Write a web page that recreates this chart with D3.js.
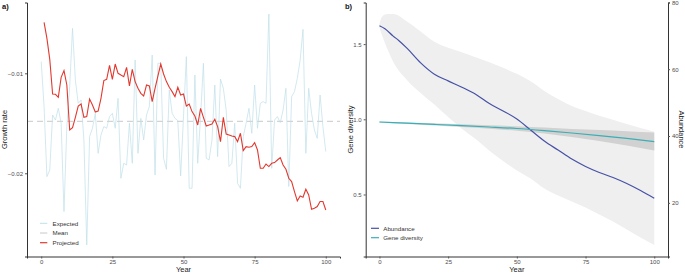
<!DOCTYPE html>
<html>
<head>
<meta charset="utf-8">
<script src="https://cdn.jsdelivr.net/npm/d3@7"></script>
<style>
  body { margin: 0; background: #fff; }
  svg { font-family: "Liberation Sans", Arial, sans-serif; }
</style>
</head>
<body>
<div id="main"></div>
<script>
// ---- panel a data: growth rate per year ----
const yearsExp = d3.range(0, 101);
const expected = [
  -0.00883, -0.01333, -0.02033, -0.01967, -0.01417, -0.01467, -0.0135, -0.015, -0.02383, -0.01533,
  -0.01133, -0.0055, -0.01067, -0.013, -0.01267, -0.01667, -0.02717, -0.01633, -0.0155, -0.014,
  -0.018, -0.01617, -0.01533, -0.0155, -0.01433, -0.014, -0.0155, -0.0125, -0.0205, -0.019,
  -0.01917, -0.015, -0.019, -0.00867, -0.018, -0.0145, -0.01667, -0.01417, -0.01333, -0.00817,
  -0.02017, -0.009, -0.009, -0.0185, -0.0196, -0.01167, -0.014, -0.0145, -0.01473, -0.02027,
  -0.01433, -0.00833, -0.0215, -0.0215, -0.01017, -0.019, -0.01433, -0.009, -0.0185, -0.01867,
  -0.01667, -0.01117, -0.01833, -0.01057, -0.0115, -0.01367, -0.01933, -0.019, -0.015, -0.021,
  -0.0215, -0.01633, -0.015, -0.0135, -0.016, -0.01117, -0.0155, -0.013, -0.01283, -0.013,
  -0.00407, -0.0195, -0.01467, -0.01433, -0.01493, -0.01367, -0.0115, -0.02133, -0.01233, -0.01183,
  -0.0105, -0.00867, -0.0056, -0.018, -0.0115, -0.014, -0.01567, -0.0165, -0.01217, -0.01533,
  -0.01783
];
const yearsProj = d3.range(1, 101);
const projected = [
  -0.0049, -0.0065, -0.0086, -0.01207, -0.0121, -0.0124, -0.0104, -0.00973, -0.01117, -0.01567,
  -0.01543, -0.0144, -0.01327, -0.01307, -0.0144, -0.01433, -0.01257, -0.01317, -0.01387, -0.01377,
  -0.0125, -0.01073, -0.0106, -0.0092, -0.0106, -0.00907, -0.01, -0.01017, -0.01033, -0.0094,
  -0.01127, -0.0096, -0.01083, -0.0115, -0.012, -0.01227, -0.01117, -0.01127, -0.01283, -0.0115,
  -0.01027, -0.00907, -0.01007, -0.01083, -0.0114, -0.01183, -0.01233, -0.0114, -0.01217, -0.01207,
  -0.01327, -0.01307, -0.01383, -0.01427, -0.01517, -0.0135, -0.0144, -0.01527, -0.01517, -0.01507,
  -0.0146, -0.01533, -0.01683, -0.0144, -0.01607, -0.01617, -0.01627, -0.01633, -0.01683, -0.016,
  -0.01773, -0.01733, -0.0174, -0.01733, -0.01693, -0.01767, -0.0195, -0.0195, -0.01907, -0.01933,
  -0.019, -0.01893, -0.01867, -0.01843, -0.01917, -0.0196, -0.0205, -0.02083, -0.02183, -0.02277,
  -0.02227, -0.0224, -0.0216, -0.02217, -0.0236, -0.0235, -0.02333, -0.02283, -0.02283, -0.02367
];
const meanRate = -0.0148;
const ticksA_x = [0, 25, 50, 75, 100];
const ticksA_y = [-0.02, -0.01];
const legendA = ["Expected", "Mean", "Projected"];

// ---- panel b data ----
const yearsAb = [0, 2, 5, 7, 10, 15, 20, 25, 30, 35, 40, 45, 50, 55, 60, 65, 70, 75, 80, 85, 90, 95, 100];
const abundance = [73.0, 72.1, 69.9, 68.6, 66.3, 61.9, 58.5, 56.5, 54.6, 52.5, 49.7, 47.5, 45.1,
                   41.8, 38.5, 35.8, 33.1, 30.9, 29.1, 27.6, 25.8, 23.7, 21.4];
const yearsAbBand = [0, 1, 3, 5, 10, 15, 20, 25, 30, 35, 40, 45, 50, 55, 60, 65, 70, 75, 80, 85, 90, 95, 100];
const abUpper = [73.6, 75.8, 76.5, 76.5, 74.3, 71.3, 68.2, 66.4, 65.1, 63.6, 62.1, 60.4, 58.6,
                 56.4, 53.5, 51.1, 49.0, 47.5, 46.1, 44.9, 43.6, 42.4, 41.3];
const abLower = [72.5, 70.0, 65.8, 62.2, 56.8, 52.9, 49.4, 45.7, 42.2, 39.1, 35.6, 32.5, 29.7,
                 27.3, 24.3, 22.2, 20.4, 18.6, 16.5, 14.4, 12.0, 9.6, 7.4];
const yearsGd = [0, 10, 20, 30, 40, 50, 60, 70, 80, 90, 100];
const geneDiv = [0.982, 0.974, 0.966, 0.958, 0.949, 0.939, 0.925, 0.909, 0.892, 0.873, 0.852];
const gdUpper = [0.985, 0.979, 0.973, 0.967, 0.960, 0.954, 0.945, 0.936, 0.929, 0.921, 0.912];
const gdLower = [0.979, 0.969, 0.959, 0.949, 0.938, 0.924, 0.905, 0.882, 0.855, 0.825, 0.792];
const AB_FACTOR = 45; // secondary axis: abundance = 45 * gene diversity
const ticksB_x = [0, 25, 50, 75, 100];
const ticksB_y = [0.5, 1.0, 1.5];
const ticksB_r = [20, 40, 60, 80];
const legendB = ["Abundance", "Gene diversity"];

const ctx = {
  w: 685, h: 274,
  top: 2.5, bottom: 256.5,
  aLeft: 27, aRight: 340,
  bLeft: 365.7, bRight: 668,
  colExp: "#bfe0ea", colMean: "#c8c8c8", colProj: "#e2392f",
  colAb: "#4651a6", colGd: "#3aafb6",
  axis: "#333333",
  TICK_FS: 6,
  TITLE_FS: 7.5
};

function expand(ext, f) {
  const d = (ext[1] - ext[0]) * f;
  return [ext[0] - d, ext[1] + d];
}

const svg = d3.select("#main").append("svg")
  .attr("width", ctx.w).attr("height", ctx.h);

// ================= panel a =================
const xA = d3.scaleLinear().domain(expand([0, 100], 0.05)).range([ctx.aLeft, ctx.aRight]);
const yA = d3.scaleLinear()
  .domain(expand(d3.extent(expected.concat(projected)), 0.05))
  .range([ctx.bottom, ctx.top]);

const gA = svg.append("g");

gA.append("line")
  .attr("x1", ctx.aLeft).attr("x2", ctx.aRight)
  .attr("y1", yA(meanRate)).attr("y2", yA(meanRate))
  .attr("stroke", ctx.colMean).attr("stroke-width", 1)
  .attr("stroke-dasharray", "6,4");

const lineA = d3.line().x(d => xA(d[0])).y(d => yA(d[1]));
gA.append("path")
  .datum(yearsExp.map((y, i) => [y, expected[i]]))
  .attr("d", lineA).attr("fill", "none")
  .attr("stroke", ctx.colExp).attr("stroke-width", 0.7);
gA.append("path")
  .datum(yearsProj.map((y, i) => [y, projected[i]]))
  .attr("d", lineA).attr("fill", "none")
  .attr("stroke", ctx.colProj).attr("stroke-width", 1.1);

gA.append("g").attr("transform", `translate(0,${ctx.bottom})`)
  .call(d3.axisBottom(xA).tickValues(ticksA_x).tickSize(2).tickPadding(1.5));
gA.append("g").attr("transform", `translate(${ctx.aLeft},0)`)
  .call(d3.axisLeft(yA).tickValues(ticksA_y).tickSize(2).tickPadding(2)
        .tickFormat(d => d3.format(".2f")(d).replace("-", "\u2212")));

gA.append("text").attr("x", (ctx.aLeft + ctx.aRight) / 2).attr("y", 272)
  .attr("text-anchor", "middle").attr("font-size", ctx.TITLE_FS).attr("fill", "#222").text("Year");
gA.append("text").attr("transform", `translate(7,${(ctx.top + ctx.bottom) / 2}) rotate(-90)`)
  .attr("text-anchor", "middle").attr("font-size", ctx.TITLE_FS).attr("fill", "#222").text("Growth rate");
gA.append("text").attr("x", 2).attr("y", 9)
  .attr("font-size", 7.5).attr("font-weight", "bold").attr("fill", "#111").text("a)");

const legA = gA.append("g");
const legAcol = [ctx.colExp, ctx.colMean, ctx.colProj];
legendA.forEach((t, i) => {
  const yy = 223.3 + i * 9.7;
  legA.append("line").attr("x1", 40).attr("x2", 47.3).attr("y1", yy).attr("y2", yy)
    .attr("stroke", legAcol[i]).attr("stroke-width", i === 2 ? 1.2 : 1);
  legA.append("text").attr("x", 52.5).attr("y", yy + 2.2)
    .attr("font-size", 6.2).attr("fill", "#333").text(t);
});

// ================= panel b =================
const xB = d3.scaleLinear().domain(expand([0, 100], 0.05)).range([ctx.bLeft, ctx.bRight]);
const allGd = abUpper.concat(abLower).map(v => v / AB_FACTOR).concat(gdUpper, gdLower);
const yB = d3.scaleLinear().domain(expand(d3.extent(allGd), 0.05)).range([ctx.bottom, ctx.top]);
const yAb = d3.scaleLinear().domain(yB.domain().map(v => v * AB_FACTOR)).range([ctx.bottom, ctx.top]);

const gB = svg.append("g");

const areaAb = d3.area().curve(d3.curveMonotoneX)
  .x(d => xB(d[0])).y0(d => yAb(d[1])).y1(d => yAb(d[2]));
gB.append("path")
  .datum(yearsAbBand.map((y, i) => [y, abLower[i], abUpper[i]]))
  .attr("d", areaAb).attr("fill", "#efefef");

const areaGd = d3.area().curve(d3.curveMonotoneX)
  .x(d => xB(d[0])).y0(d => yB(d[1])).y1(d => yB(d[2]));
gB.append("path")
  .datum(yearsGd.map((y, i) => [y, gdLower[i], gdUpper[i]]))
  .attr("d", areaGd).attr("fill", "#bdbdbd").attr("fill-opacity", 0.6);

gB.append("path")
  .datum(yearsAb.map((y, i) => [y, abundance[i]]))
  .attr("d", d3.line().curve(d3.curveMonotoneX).x(d => xB(d[0])).y(d => yAb(d[1])))
  .attr("fill", "none").attr("stroke", ctx.colAb).attr("stroke-width", 1.2);
gB.append("path")
  .datum(yearsGd.map((y, i) => [y, geneDiv[i]]))
  .attr("d", d3.line().curve(d3.curveMonotoneX).x(d => xB(d[0])).y(d => yB(d[1])))
  .attr("fill", "none").attr("stroke", ctx.colGd).attr("stroke-width", 1.2);

gB.append("g").attr("transform", `translate(0,${ctx.bottom})`)
  .call(d3.axisBottom(xB).tickValues(ticksB_x).tickSize(2).tickPadding(1.5));
gB.append("g").attr("transform", `translate(${ctx.bLeft},0)`)
  .call(d3.axisLeft(yB).tickValues(ticksB_y).tickSize(2).tickPadding(2).tickFormat(d3.format(".1f")));
gB.append("g").attr("transform", `translate(${ctx.bRight},0)`)
  .call(d3.axisRight(yAb).tickValues(ticksB_r).tickSize(2).tickPadding(2));

gB.append("text").attr("x", (ctx.bLeft + ctx.bRight) / 2).attr("y", 272)
  .attr("text-anchor", "middle").attr("font-size", ctx.TITLE_FS).attr("fill", "#222").text("Year");
gB.append("text").attr("transform", `translate(353,${(ctx.top + ctx.bottom) / 2}) rotate(-90)`)
  .attr("text-anchor", "middle").attr("font-size", ctx.TITLE_FS).attr("fill", "#222").text("Gene diversity");
gB.append("text").attr("transform", `translate(679,${(ctx.top + ctx.bottom) / 2}) rotate(90)`)
  .attr("text-anchor", "middle").attr("font-size", ctx.TITLE_FS).attr("fill", "#222").text("Abundance");
gB.append("text").attr("x", 345).attr("y", 9)
  .attr("font-size", 7.5).attr("font-weight", "bold").attr("fill", "#111").text("b)");

const legB = gB.append("g");
const legBcol = [ctx.colAb, ctx.colGd];
legendB.forEach((t, i) => {
  const yy = 228.3 + i * 9.4;
  legB.append("line").attr("x1", 371).attr("x2", 379).attr("y1", yy).attr("y2", yy)
    .attr("stroke", legBcol[i]).attr("stroke-width", 1.2);
  legB.append("text").attr("x", 383.3).attr("y", yy + 2.2)
    .attr("font-size", 6.2).attr("fill", "#333").text(t);
});

// axis styling like ggplot classic theme
svg.selectAll(".domain").attr("stroke", ctx.axis).attr("stroke-width", 1);
svg.selectAll(".tick line").attr("stroke", "#555");
svg.selectAll(".tick text").attr("fill", "#4d4d4d").attr("font-size", ctx.TICK_FS);
</script>
</body>
</html>
